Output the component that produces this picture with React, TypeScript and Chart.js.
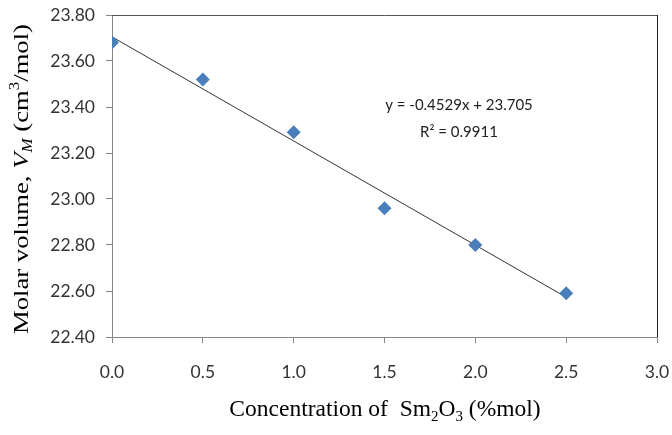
import React, { useEffect, useRef } from "react";
import { Chart, registerables } from "chart.js";

Chart.register(...registerables);

const concentrations = [0.0, 0.5, 1.0, 1.5, 2.0, 2.5];
const molarVolumes = [23.68, 23.52, 23.29, 22.96, 22.8, 22.59];
const trendX = [0.0, 2.5];
const trendY = [23.705, 22.573];
const equationLines = ["y = -0.4529x + 23.705", "R² = 0.9911"];

type Seg = { t: string; italic?: boolean; s?: "sub" | "sup" };

const yTitle: Seg[] = [
  { t: "Molar volume, " },
  { t: "V", italic: true },
  { t: "M", italic: true, s: "sub" },
  { t: " (cm" },
  { t: "3", s: "sup" },
  { t: "/mol)" },
];
const xTitle: Seg[] = [
  { t: "Concentration of  Sm" },
  { t: "2", s: "sub" },
  { t: "O" },
  { t: "3", s: "sub" },
  { t: " (%mol)" },
];

const SERIF = "'Liberation Serif', 'Times New Roman', serif";
const SANS = "Lato, 'Open Sans', sans-serif";

function fontFor(seg: Seg, size: number) {
  const sz = seg.s ? Math.round(size * 0.65) : size;
  return `${seg.italic ? "italic " : ""}${sz}px ${SERIF}`;
}

function drawRich(
  ctx: CanvasRenderingContext2D,
  segs: Seg[],
  cx: number,
  cy: number,
  size: number,
  targetWidth?: number
) {
  let total = 0;
  for (const s of segs) {
    ctx.font = fontFor(s, size);
    total += ctx.measureText(s.t).width;
  }
  const k = targetWidth ? targetWidth / total : 1;
  ctx.save();
  ctx.translate(cx, cy);
  ctx.scale(k, 1);
  let x = -total / 2;
  ctx.textBaseline = "middle";
  ctx.textAlign = "left";
  for (const s of segs) {
    ctx.font = fontFor(s, size);
    const dy = s.s === "sub" ? size * 0.3 : s.s === "sup" ? -size * 0.3 : 0;
    ctx.fillText(s.t, x, dy);
    x += ctx.measureText(s.t).width;
  }
  ctx.restore();
}

const decorPlugin = {
  id: "decor",
  afterDraw(chart: any) {
    const { ctx, chartArea } = chart;
    const { left, right, top, bottom } = chartArea;
    ctx.save();
    ctx.lineWidth = 1;
    ctx.strokeStyle = "#555";
    ctx.beginPath();
    ctx.moveTo(left, top + 0.5);
    ctx.lineTo(right + 0.5, top + 0.5);
    ctx.stroke();
    ctx.strokeStyle = "#222";
    ctx.beginPath();
    ctx.moveTo(right + 0.5, top);
    ctx.lineTo(right + 0.5, bottom);
    ctx.stroke();
    ctx.fillStyle = "#000";
    drawRich(ctx, xTitle, 385, 410, 23.5);
    ctx.translate(22, 179);
    ctx.rotate(-Math.PI / 2);
    drawRich(ctx, yTitle, 0, 0, 22, 310);
    ctx.restore();
    ctx.save();
    ctx.fillStyle = "#222";
    ctx.font = `15px ${SANS}`;
    ctx.textAlign = "center";
    ctx.textBaseline = "middle";
    ctx.fillText(equationLines[0], 459, 105);
    ctx.fillText(equationLines[1], 459, 132);
    ctx.restore();
  },
};

export default function App() {
  const ref = useRef<HTMLCanvasElement>(null);
  useEffect(() => {
    if (!ref.current) return;
    const chart = new Chart(ref.current, {
      type: "scatter",
      data: {
        datasets: [
          {
            label: "Molar volume",
            data: concentrations.map((x, i) => ({ x, y: molarVolumes[i] })),
            pointStyle: "rectRot",
            pointRadius: 7,
            backgroundColor: "#4a7ebb",
            borderColor: "#4a7ebb",
            borderWidth: 0,
            order: 1,
          },
          {
            label: "Linear fit",
            type: "line",
            data: trendX.map((x, i) => ({ x, y: trendY[i] })),
            borderColor: "#333",
            borderWidth: 1,
            pointRadius: 0,
            fill: false,
            order: 2,
          } as any,
        ],
      },
      options: {
        animation: false,
        responsive: true,
        maintainAspectRatio: false,
        layout: { padding: { top: 15, right: 15, left: 0, bottom: 0 } },
        plugins: { legend: { display: false }, tooltip: { enabled: false } },
        scales: {
          x: {
            type: "linear",
            min: 0,
            max: 3,
            ticks: {
              stepSize: 0.5,
              callback: (v: any) => Number(v).toFixed(1),
              color: "#333",
              font: { family: SANS, size: 17.5 },
              padding: 19,
            },
            grid: { drawOnChartArea: false, tickLength: 6, color: "#868686" },
            border: { color: "#868686" },
            afterFit: (s: any) => {
              s.height = 98;
              s.paddingLeft = 0;
              s.paddingRight = 0;
            },
          },
          y: {
            type: "linear",
            min: 22.4,
            max: 23.8,
            ticks: {
              stepSize: 0.2,
              callback: (v: any) => Number(v).toFixed(2),
              color: "#333",
              font: { family: SANS, size: 17.5 },
              padding: 11,
            },
            grid: { drawOnChartArea: false, tickLength: 6, color: "#868686" },
            border: { color: "#868686" },
            afterFit: (s: any) => {
              s.width = 112;
              s.paddingTop = 0;
              s.paddingBottom = 0;
            },
          },
        },
      },
      plugins: [decorPlugin],
    });
    return () => chart.destroy();
  }, []);
  return (
    <div style={{ position: "fixed", left: 0, top: 0, width: 672, height: 435, background: "#fff" }}>
      <canvas ref={ref} />
    </div>
  );
}
